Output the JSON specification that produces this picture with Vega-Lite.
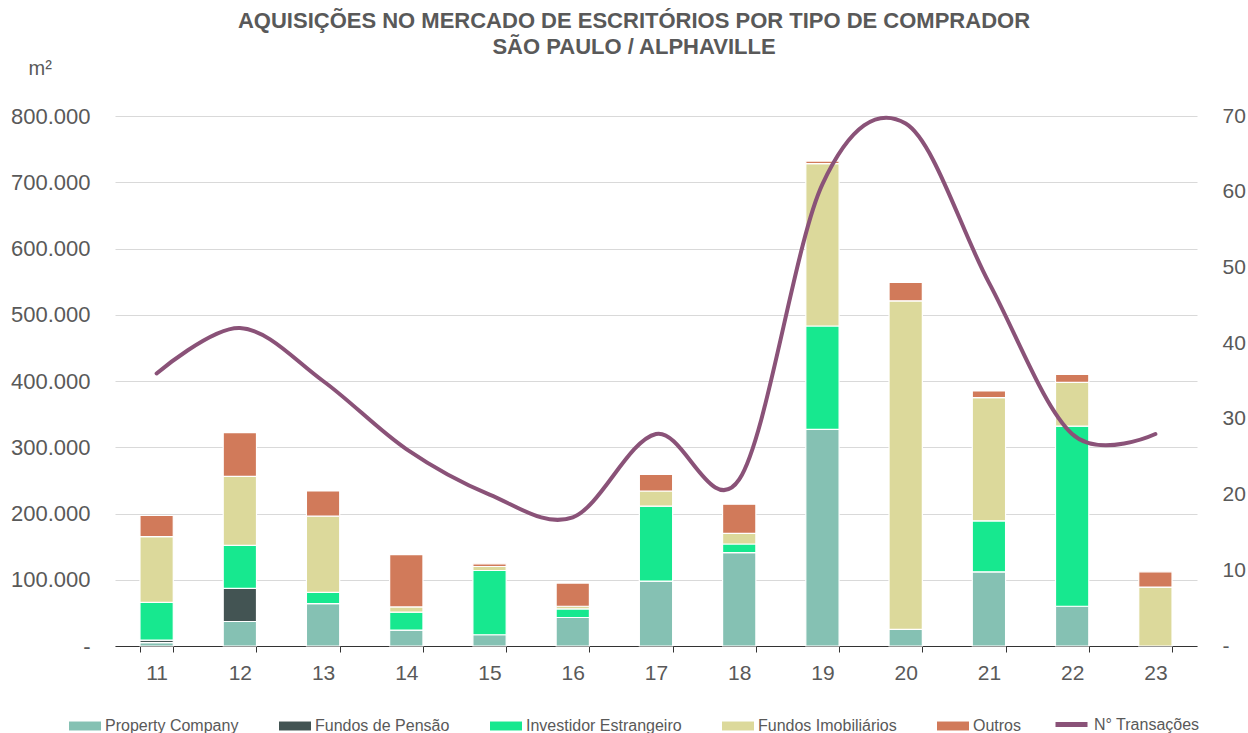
{
  "$schema": "https://vega.github.io/schema/vega-lite/v6.json",
  "autosize": "none",
  "width": 1082,
  "height": 530,
  "padding": {"left": 115, "top": 116, "right": 51, "bottom": 87},
  "background": "white",
  "config": {
    "font": "Liberation Sans",
    "view": {"stroke": null},
    "locale": {"number": {"decimal": ",", "thousands": ".", "grouping": [3], "currency": ["R$", ""]}}
  },
  "title": {
    "text": ["AQUISIÇÕES NO MERCADO DE ESCRITÓRIOS POR TIPO DE COMPRADOR", "SÃO PAULO / ALPHAVILLE"],
    "anchor": "middle",
    "fontSize": 22,
    "fontWeight": "bold",
    "color": "#595959",
    "lineHeight": 26,
    "offset": -1,
    "dx": -22
  },
  "datasets": {
    "bars": [
      {"ano": "11", "tipo": "Property Company", "m2": 5000},
      {"ano": "11", "tipo": "Fundos de Pensão", "m2": 4000},
      {"ano": "11", "tipo": "Investidor Estrangeiro", "m2": 57000},
      {"ano": "11", "tipo": "Fundos Imobiliários", "m2": 99000},
      {"ano": "11", "tipo": "Outros", "m2": 32000},
      {"ano": "12", "tipo": "Property Company", "m2": 37000},
      {"ano": "12", "tipo": "Fundos de Pensão", "m2": 50000},
      {"ano": "12", "tipo": "Investidor Estrangeiro", "m2": 65000},
      {"ano": "12", "tipo": "Fundos Imobiliários", "m2": 104000},
      {"ano": "12", "tipo": "Outros", "m2": 66000},
      {"ano": "13", "tipo": "Property Company", "m2": 64000},
      {"ano": "13", "tipo": "Investidor Estrangeiro", "m2": 17000},
      {"ano": "13", "tipo": "Fundos Imobiliários", "m2": 115000},
      {"ano": "13", "tipo": "Outros", "m2": 38000},
      {"ano": "14", "tipo": "Property Company", "m2": 24000},
      {"ano": "14", "tipo": "Investidor Estrangeiro", "m2": 27000},
      {"ano": "14", "tipo": "Fundos Imobiliários", "m2": 8000},
      {"ano": "14", "tipo": "Outros", "m2": 79000},
      {"ano": "15", "tipo": "Property Company", "m2": 17000},
      {"ano": "15", "tipo": "Investidor Estrangeiro", "m2": 97000},
      {"ano": "15", "tipo": "Fundos Imobiliários", "m2": 6000},
      {"ano": "15", "tipo": "Outros", "m2": 4000},
      {"ano": "16", "tipo": "Property Company", "m2": 43000},
      {"ano": "16", "tipo": "Investidor Estrangeiro", "m2": 13000},
      {"ano": "16", "tipo": "Fundos Imobiliários", "m2": 4000},
      {"ano": "16", "tipo": "Outros", "m2": 35000},
      {"ano": "17", "tipo": "Property Company", "m2": 98000},
      {"ano": "17", "tipo": "Investidor Estrangeiro", "m2": 113000},
      {"ano": "17", "tipo": "Fundos Imobiliários", "m2": 23000},
      {"ano": "17", "tipo": "Outros", "m2": 25000},
      {"ano": "18", "tipo": "Property Company", "m2": 141000},
      {"ano": "18", "tipo": "Investidor Estrangeiro", "m2": 13000},
      {"ano": "18", "tipo": "Fundos Imobiliários", "m2": 16000},
      {"ano": "18", "tipo": "Outros", "m2": 44000},
      {"ano": "19", "tipo": "Property Company", "m2": 327000},
      {"ano": "19", "tipo": "Investidor Estrangeiro", "m2": 156000},
      {"ano": "19", "tipo": "Fundos Imobiliários", "m2": 245000},
      {"ano": "19", "tipo": "Outros", "m2": 4000},
      {"ano": "20", "tipo": "Property Company", "m2": 25000},
      {"ano": "20", "tipo": "Fundos Imobiliários", "m2": 496000},
      {"ano": "20", "tipo": "Outros", "m2": 28000},
      {"ano": "21", "tipo": "Property Company", "m2": 112000},
      {"ano": "21", "tipo": "Investidor Estrangeiro", "m2": 77000},
      {"ano": "21", "tipo": "Fundos Imobiliários", "m2": 186000},
      {"ano": "21", "tipo": "Outros", "m2": 10000},
      {"ano": "22", "tipo": "Property Company", "m2": 60000},
      {"ano": "22", "tipo": "Investidor Estrangeiro", "m2": 272000},
      {"ano": "22", "tipo": "Fundos Imobiliários", "m2": 66000},
      {"ano": "22", "tipo": "Outros", "m2": 12000},
      {"ano": "23", "tipo": "Fundos Imobiliários", "m2": 89000},
      {"ano": "23", "tipo": "Outros", "m2": 23000}
    ],
    "linha": [
      {"ano": "11", "serie": "N° Transações", "transacoes": 36},
      {"ano": "12", "serie": "N° Transações", "transacoes": 42},
      {"ano": "13", "serie": "N° Transações", "transacoes": 35},
      {"ano": "14", "serie": "N° Transações", "transacoes": 26},
      {"ano": "15", "serie": "N° Transações", "transacoes": 20},
      {"ano": "16", "serie": "N° Transações", "transacoes": 17},
      {"ano": "17", "serie": "N° Transações", "transacoes": 28},
      {"ano": "18", "serie": "N° Transações", "transacoes": 22},
      {"ano": "19", "serie": "N° Transações", "transacoes": 61},
      {"ano": "20", "serie": "N° Transações", "transacoes": 69},
      {"ano": "21", "serie": "N° Transações", "transacoes": 48},
      {"ano": "22", "serie": "N° Transações", "transacoes": 28},
      {"ano": "23", "serie": "N° Transações", "transacoes": 28}
    ]
  },
  "encoding": {
    "x": {
      "field": "ano",
      "type": "ordinal",
      "scale": {"paddingInner": 0.6, "paddingOuter": 0.3},
      "axis": {
        "title": null,
        "labelAngle": 0,
        "labelFontSize": 21,
        "labelColor": "#595959",
        "labelPadding": 10,
        "tickBand": "extent",
        "tickSize": 6,
        "tickColor": "#333333",
        "domainColor": "#333333",
        "domainWidth": 1,
        "grid": false
      }
    }
  },
  "layer": [
    {
      "data": {"name": "bars"},
      "transform": [
        {"calculate": "indexof(['Property Company', 'Fundos de Pensão', 'Investidor Estrangeiro', 'Fundos Imobiliários', 'Outros'], datum.tipo)", "as": "ordem"}
      ],
      "mark": {"type": "bar", "stroke": "white", "strokeWidth": 1.2},
      "encoding": {
        "y": {
          "field": "m2",
          "type": "quantitative",
          "aggregate": "sum",
          "stack": "zero",
          "scale": {"domain": [0, 800000], "nice": false},
          "axis": {
            "values": [0, 100000, 200000, 300000, 400000, 500000, 600000, 700000, 800000],
            "format": ",d",
            "labelExpr": "datum.value == 0 ? '-' : datum.label",
            "labelFontSize": 22,
            "labelColor": "#595959",
            "labelPadding": 25,
            "ticks": false,
            "domain": false,
            "gridColor": "#D9D9D9",
            "gridWidth": 1,
            "title": "m²",
            "titleAngle": 0,
            "titleFontSize": 20,
            "titleFontWeight": "normal",
            "titleColor": "#595959",
            "titleX": -87,
            "titleY": -48,
            "titleAlign": "left",
            "titleBaseline": "middle"
          }
        },
        "color": {
          "field": "tipo",
          "type": "nominal",
          "scale": {
            "domain": ["Property Company", "Fundos de Pensão", "Investidor Estrangeiro", "Fundos Imobiliários", "Outros"],
            "range": ["#85C1B3", "#435453", "#17E88F", "#DCD99B", "#D17A5A"]
          },
          "legend": {
            "title": null,
            "orient": "none",
            "direction": "horizontal",
            "legendX": -46,
            "legendY": 594,
            "columns": 5,
            "symbolType": "M-1,-0.28L1,-0.28L1,0.28L-1,0.28Z",
            "symbolSize": 1024,
            "symbolStrokeWidth": 0,
            "labelFontSize": 16,
            "labelColor": "#595959",
            "labelOffset": 4,
            "columnPadding": 40,
            "padding": 0
          }
        },
        "order": {"field": "ordem", "type": "quantitative", "aggregate": "min", "sort": "ascending"}
      }
    },
    {
      "data": {"name": "linha"},
      "mark": {"type": "line", "interpolate": "cardinal", "strokeWidth": 4, "strokeCap": "round"},
      "encoding": {
        "y": {
          "field": "transacoes",
          "type": "quantitative",
          "scale": {"domain": [0, 70], "nice": false},
          "axis": {
            "orient": "right",
            "values": [0, 10, 20, 30, 40, 50, 60, 70],
            "labelExpr": "datum.value == 0 ? '-' : datum.label",
            "labelFontSize": 21,
            "labelColor": "#595959",
            "labelPadding": 25,
            "ticks": false,
            "domain": false,
            "grid": false,
            "title": null
          }
        },
        "color": {
          "field": "serie",
          "type": "nominal",
          "scale": {"domain": ["N° Transações"], "range": ["#8A5278"]},
          "legend": {
            "title": null,
            "orient": "none",
            "direction": "horizontal",
            "legendX": 938,
            "legendY": 590,
            "symbolType": "stroke",
            "symbolSize": 1024,
            "symbolStrokeWidth": 5,
            "labelFontSize": 16,
            "labelColor": "#595959",
            "labelOffset": 4,
            "padding": 0
          }
        }
      }
    }
  ],
  "resolve": {"scale": {"y": "independent", "color": "independent"}}
}
